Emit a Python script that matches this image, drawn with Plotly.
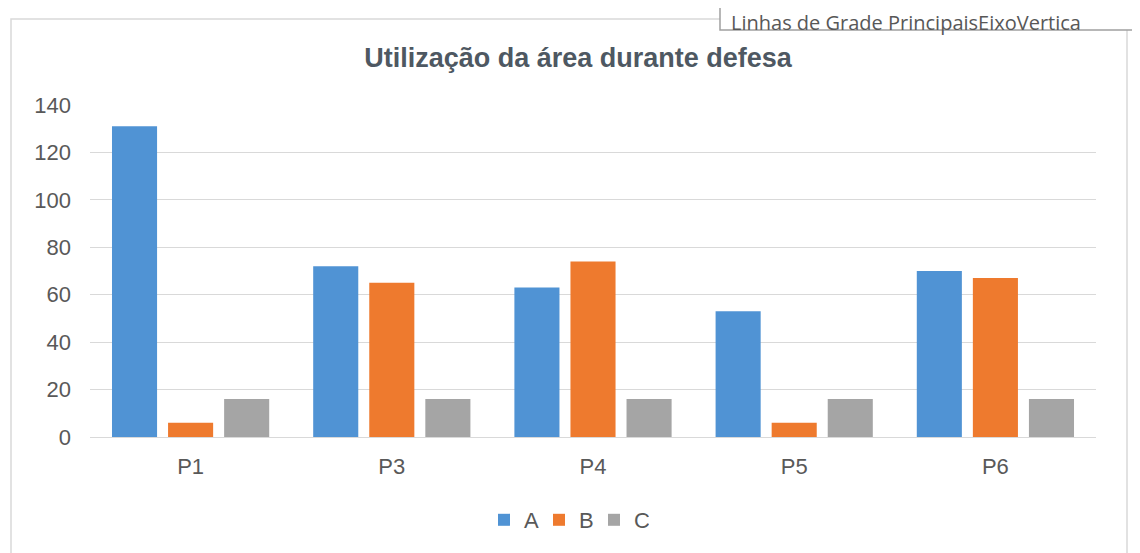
import plotly.graph_objects as go

categories = ["P1", "P3", "P4", "P5", "P6"]
series_a = [131, 72, 63, 53, 70]
series_b = [6, 65, 74, 6, 67]
series_c = [16, 16, 16, 16, 16]
series_names = ["A", "B", "C"]
y_ticks = [0, 20, 40, 60, 80, 100, 120, 140]

colors = ["#5093D4", "#EE7A2E", "#A5A5A5"]

OFF = 8  # page offset of the figure in the browser
W, H = 1140, 553
L, T = 90 - OFF, 105 - OFF
R = W - (1096 - OFF)
B = H - (437 - OFF)
pw, ph = W - L - R, H - T - B


def sx(p):
    return (p - OFF - L) / pw


def sy(p):
    return (H - B - (p - OFF)) / ph


fig = go.Figure()
for name, vals, col in zip(series_names, [series_a, series_b, series_c], colors):
    fig.add_trace(go.Bar(x=categories, y=vals, name=name, marker=dict(color=col, line=dict(width=0))))

font_family = "Liberation Sans, Arial, sans-serif"
tick_color = "#595959"

fig.update_layout(
    width=W, height=H,
    margin=dict(l=L, r=R, t=T, b=B),
    paper_bgcolor="white", plot_bgcolor="white",
    barmode="group", bargap=0.164, bargroupgap=0.196,
    font=dict(family=font_family, size=22, color=tick_color),
    title=dict(text="<b>Utilização da área durante defesa</b>", x=0.5, xanchor="center",
               y=1 - (58 - OFF) / H, yanchor="middle",
               font=dict(family=font_family, size=27, color="#4E5862")),
    xaxis=dict(showgrid=False, showline=True, linecolor="#D9D9D9", linewidth=1,
               ticks="", ticklabelstandoff=10, tickfont=dict(size=22, color=tick_color)),
    yaxis=dict(range=[0, 140], tickvals=y_ticks, showgrid=True, gridcolor="#D9D9D9",
               gridwidth=1, zeroline=False, showline=False, ticks="",
               ticklabelstandoff=18, tickfont=dict(size=22, color=tick_color)),
    legend=dict(orientation="h", x=sx(484), xanchor="left", y=sy(520), yanchor="middle",
                font=dict(size=22, color=tick_color), itemwidth=30, traceorder="normal",
                entrywidth=10, entrywidthmode="pixels",
                bgcolor="rgba(0,0,0,0)"),
    showlegend=True,
)

# chart frame
fig.add_shape(type="rect", xref="paper", yref="paper",
              x0=sx(11), x1=sx(1127), y0=sy(560), y1=sy(19),
              line=dict(color="#D9D9D9", width=1.5), fillcolor="rgba(0,0,0,0)", layer="below")

# tooltip box
fig.add_shape(type="rect", xref="paper", yref="paper",
              x0=sx(720), x1=sx(1160), y0=sy(30), y1=sy(-10),
              line=dict(color="#A0A0A0", width=1.5), fillcolor="white", layer="above")
fig.add_annotation(text="Linhas de Grade PrincipaisEixoVertica", xref="paper", yref="paper",
                   x=sx(729), y=sy(22.5), xanchor="left", yanchor="middle", showarrow=False,
                   font=dict(family="Open Sans, DejaVu Sans, sans-serif", size=20, color="#575757"))

fig.write_html("out.html")
